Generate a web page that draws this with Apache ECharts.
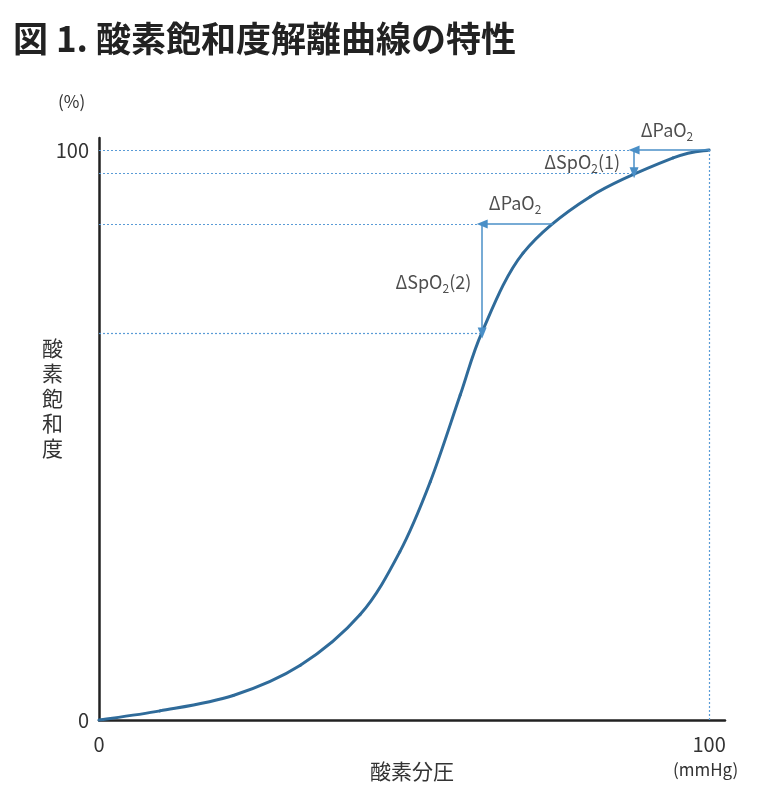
<!DOCTYPE html>
<html>
<head>
<meta charset="utf-8">
<script src="https://cdn.jsdelivr.net/npm/echarts@6/dist/echarts.min.js"></script>
<style>
  html, body { margin: 0; padding: 0; background: #fff; }
  #container { width: 773px; height: 798px; }
</style>
</head>
<body>
<div id="container"></div>
<script>
// 曲線の読み取り値（PaO2 mmHg / SpO2 %）
const paO2 = [0, 10, 22, 33, 42.8, 49.3, 54.3, 59.2, 62.8, 69.5, 80.5, 94.1, 100];
const spO2 = [0, 1.6, 4.3, 9.6, 18.5, 29.5, 41.8, 57.0, 68.1, 81.9, 91.8, 98.6, 100];
const xTicks = [0, 100];
const yTicks = [0, 100];
// 矢印の始点・終点
const arrowHigh = { x0: 100, x1: 87.7, yTop: 100, yBottom: 96 };
const arrowLow = { x0: 74.4, x1: 62.8, yTop: 87, yBottom: 67.9 };
// 注記テキスト [x, y, rich text]
const notes = [
    [93.1, 103.5, '{a|ΔPaO}{s|2}'],
    [79.2, 97.9, '{a|ΔSpO}{s|2}{a|(1)}'],
    [68.2, 90.6, '{a|ΔPaO}{s|2}'],
    [54.8, 76.8, '{a|ΔSpO}{s|2}{a|(2)}']
];

let dom = document.getElementById('container');
let myChart = echarts.init(dom);
const font = '"Noto Sans CJK JP", "Noto Sans", sans-serif';
const dotColor = '#5a9bd6';
const arrowColor = '#4a8fc7';
const curveColor = '#2f6b9a';

let curveData = paO2.map((x, i) => [x, spO2[i]]);

function dotted(a, b) {
    return [{ coord: a, symbol: 'none' }, { coord: b, symbol: 'none' }];
}
function arrow(a, b) {
    return [
        { coord: a, symbol: 'none', lineStyle: { type: 'solid', color: arrowColor, width: 1.5 } },
        { coord: b, symbol: 'triangle', symbolSize: [9, 11] }
    ];
}

let markLines = [
    dotted([0, arrowHigh.yTop], [arrowHigh.x1, arrowHigh.yTop]),
    dotted([0, arrowHigh.yBottom], [arrowHigh.x1, arrowHigh.yBottom]),
    dotted([100, 100], [100, 0]),
    dotted([0, arrowLow.yTop], [arrowLow.x1, arrowLow.yTop]),
    dotted([0, arrowLow.yBottom], [arrowLow.x1, arrowLow.yBottom]),
    arrow([arrowHigh.x0, arrowHigh.yTop], [arrowHigh.x1, arrowHigh.yTop]),
    arrow([arrowHigh.x1, arrowHigh.yTop], [arrowHigh.x1, arrowHigh.yBottom]),
    arrow([arrowLow.x0, arrowLow.yTop], [arrowLow.x1, arrowLow.yTop]),
    arrow([arrowLow.x1, arrowLow.yTop], [arrowLow.x1, arrowLow.yBottom])
];

// 各区間を Catmull-Rom 風のベジェ曲線で描く（座標は軸から変換）
function renderCurve(params, api) {
    let i = params.dataIndex;
    let n = curveData.length;
    if (i >= n - 1) return null;
    let p0 = api.coord(curveData[Math.max(i - 1, 0)]);
    let p1 = api.coord(curveData[i]);
    let p2 = api.coord(curveData[i + 1]);
    let p3 = api.coord(curveData[Math.min(i + 2, n - 1)]);
    return {
        type: 'bezierCurve',
        shape: {
            x1: p1[0], y1: p1[1],
            x2: p2[0], y2: p2[1],
            cpx1: p1[0] + (p2[0] - p0[0]) / 6,
            cpy1: p1[1] + (p2[1] - p0[1]) / 6,
            cpx2: p2[0] - (p3[0] - p1[0]) / 6,
            cpy2: p2[1] - (p3[1] - p1[1]) / 6
        },
        style: { stroke: curveColor, lineWidth: 3, fill: null, lineCap: 'round' }
    };
}

let option = {
    animation: false,
    textStyle: { fontFamily: font },
    title: {
        text: '図 1. 酸素飽和度解離曲線の特性',
        left: 8,
        top: 16,
        textStyle: { fontSize: 35, fontWeight: 'bold', color: '#222', fontFamily: font }
    },
    grid: { left: 99, right: 48, top: 138, bottom: 78 },
    xAxis: {
        type: 'value',
        min: 0,
        max: 102.6,
        name: '酸素分圧',
        nameLocation: 'middle',
        nameGap: 41,
        nameTextStyle: { fontSize: 21, color: '#333' },
        axisLine: { lineStyle: { color: '#222', width: 2.5 } },
        axisTick: { show: false },
        splitLine: { show: false },
        axisLabel: { customValues: xTicks, fontSize: 20, color: '#333', margin: 14 }
    },
    yAxis: {
        type: 'value',
        min: 0,
        max: 102.1,
        axisLine: { lineStyle: { color: '#222', width: 2.5 } },
        axisTick: { show: false },
        splitLine: { show: false },
        axisLabel: { customValues: yTicks, fontSize: 20, color: '#333', margin: 10 }
    },
    graphic: [
        { type: 'text', left: 58, top: 93, style: { text: '(%)', fontSize: 17, fill: '#333', fontFamily: font } },
        { type: 'text', left: 673, top: 761, style: { text: '(mmHg)', fontSize: 17, fill: '#333', fontFamily: font } },
        { type: 'text', left: 42, top: 336, style: { text: '酸\n素\n飽\n和\n度', fontSize: 21, lineHeight: 25, fill: '#333', fontFamily: font } }
    ],
    series: [
        {
            type: 'custom',
            data: curveData,
            renderItem: renderCurve,
            silent: true,
            z: 3,
            clip: false
        },
        {
            type: 'scatter',
            symbolSize: 0,
            clip: false,
            silent: true,
            data: notes.map(n => ({ value: [n[0], n[1]], text: n[2] })),
            label: {
                show: true,
                position: 'inside',
                formatter: p => p.data.text,
                rich: {
                    a: { fontSize: 18, color: '#222', lineHeight: 24, fontFamily: font },
                    s: { fontSize: 12, color: '#222', lineHeight: 24, verticalAlign: 'bottom', padding: [10, 0, 0, 0], fontFamily: font }
                }
            },
            markLine: {
                silent: true,
                animation: false,
                label: { show: false },
                symbol: ['none', 'none'],
                lineStyle: { type: [2, 2], color: dotColor, width: 1.2 },
                emphasis: { disabled: true },
                data: markLines
            }
        }
    ]
};
if (option && typeof option === 'object') {
    myChart.setOption(option, true);
}
</script>
</body>
</html>
